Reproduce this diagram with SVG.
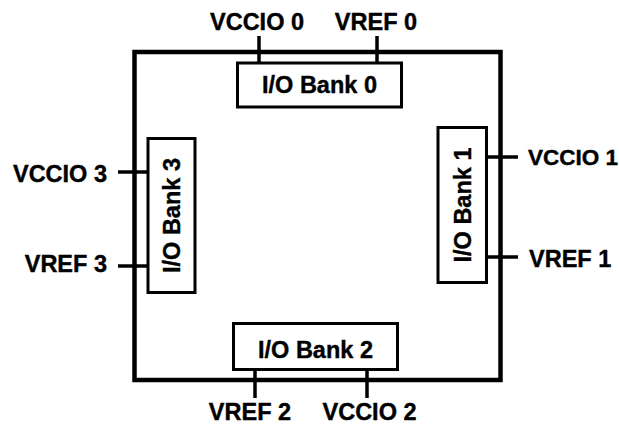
<svg xmlns="http://www.w3.org/2000/svg" width="619" height="425" viewBox="0 0 619 425">
<style>
.t{font-family:"Liberation Sans",Arial,Helvetica,sans-serif;font-weight:bold;font-size:23.5px;fill:#000;stroke:#000;stroke-width:0.4}
.c{stroke:#000;stroke-width:3.5;fill:none}
.b{stroke:#000;stroke-width:3;fill:#fff}
</style>
<rect x="0" y="0" width="619" height="425" fill="#fff"/>
<g id="chip"><rect x="134.5" y="52" width="366" height="328" fill="none" stroke="#000" stroke-width="4.5"/></g>
<g id="connectors">
<line class="c" x1="259" y1="36" x2="259" y2="63"/>
<line class="c" x1="377" y1="36" x2="377" y2="63"/>
<line class="c" x1="118" y1="172" x2="148" y2="172"/>
<line class="c" x1="118" y1="266" x2="148" y2="266"/>
<line class="c" x1="487" y1="157" x2="518" y2="157"/>
<line class="c" x1="487" y1="257" x2="518" y2="257"/>
<line class="c" x1="255" y1="370" x2="255" y2="398"/>
<line class="c" x1="367" y1="370" x2="367" y2="398"/>
</g>
<g id="bank0"><rect class="b" x="237.5" y="63" width="164" height="44"/><text class="t" x="319.5" y="93" text-anchor="middle">I/O Bank 0</text></g>
<g id="bank1"><rect class="b" x="438" y="127.5" width="48.5" height="155"/><text class="t" transform="translate(471,205) rotate(-90)" text-anchor="middle">I/O Bank 1</text></g>
<g id="bank2"><rect class="b" x="233.5" y="323.5" width="164" height="46"/><text class="t" x="315.5" y="358" text-anchor="middle">I/O Bank 2</text></g>
<g id="bank3"><rect class="b" x="148" y="138.5" width="47" height="154"/><text class="t" transform="translate(180,215.5) rotate(-90)" text-anchor="middle">I/O Bank 3</text></g>
<g id="labels">
<text class="t" x="257" y="30" text-anchor="middle">VCCIO 0</text>
<text class="t" x="376" y="30" text-anchor="middle">VREF 0</text>
<text class="t" x="107" y="182" text-anchor="end">VCCIO 3</text>
<text class="t" x="107" y="272" text-anchor="end">VREF 3</text>
<text class="t" x="528" y="165" style="font-size:22.5px">VCCIO 1</text>
<text class="t" x="529" y="267">VREF 1</text>
<text class="t" x="250" y="420" text-anchor="middle">VREF 2</text>
<text class="t" x="369.5" y="420" text-anchor="middle">VCCIO 2</text>
</g>
</svg>
